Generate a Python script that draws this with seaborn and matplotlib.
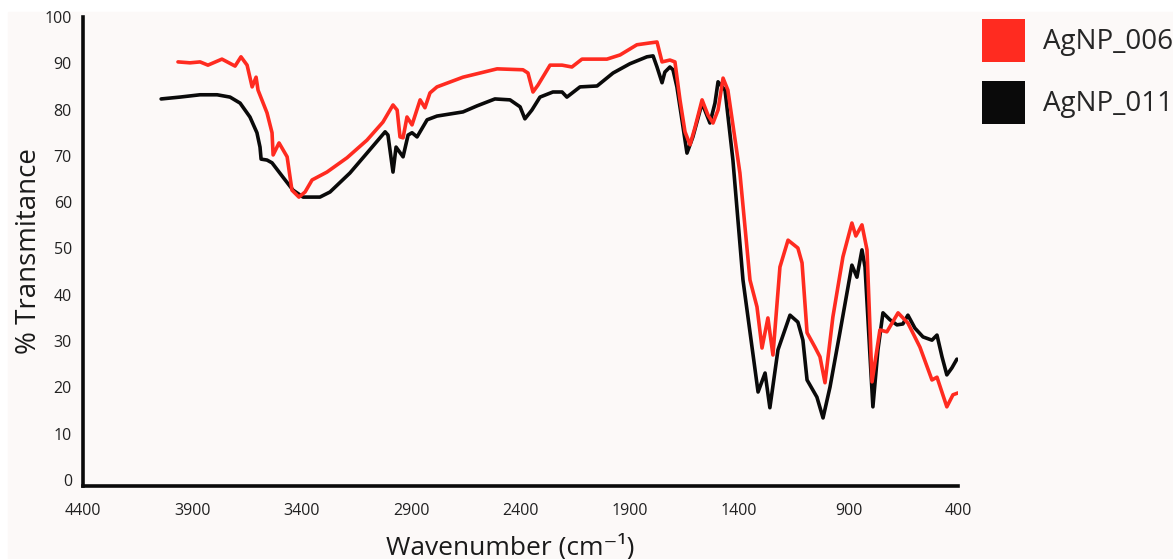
import pandas as pd
import seaborn as sns
import matplotlib.pyplot as plt
from matplotlib.patches import Patch, Rectangle

sns.set_style("white")
plt.rcParams["font.family"] = ["Open Sans", "DejaVu Sans"]

# FTIR spectra
wn_006 = [3966, 3911, 3865, 3829, 3765, 3705, 3678, 3650, 3627, 3609, 3600,
          3559, 3536, 3531, 3504, 3467, 3445, 3413, 3385, 3353, 3285, 3193,
          3102, 3029, 2983, 2964, 2951, 2937, 2919, 2896, 2859, 2837, 2814,
          2782, 2663, 2507, 2389, 2366, 2343, 2320, 2265, 2210, 2165, 2119,
          2005, 1945, 1868, 1808, 1776, 1753, 1717, 1694, 1671, 1648, 1625,
          1602, 1570, 1543, 1520, 1497, 1474, 1452, 1397, 1351, 1319, 1296,
          1269, 1246, 1214, 1177, 1132, 1113, 1090, 1054, 1031, 1008, 972,
          926, 885, 867, 839, 816, 793, 757, 725, 674, 629, 574, 519, 496,
          451, 423, 400]
t_006 = [90.3, 90.1, 90.3, 89.6, 90.9, 89.4, 91.4, 89.6, 84.9, 87.0, 84.2,
         79.3, 75.0, 70.2, 72.8, 69.8, 62.6, 61.1, 62.2, 64.8, 66.5, 69.6,
         73.4, 77.3, 81.0, 79.9, 74.1, 73.9, 78.4, 76.7, 82.1, 80.4, 83.6,
         84.9, 87.0, 88.8, 88.6, 87.9, 83.8, 85.3, 89.6, 89.6, 89.2, 90.9,
         90.9, 91.8, 94.0, 94.4, 94.6, 90.3, 90.7, 90.3, 82.1, 75.2, 72.4,
         76.2, 82.1, 78.8, 77.1, 79.9, 86.8, 84.2, 66.3, 43.2, 37.4, 28.5,
         35.0, 27.0, 46.0, 51.8, 50.1, 46.9, 31.8, 28.7, 26.6, 21.0, 35.2,
         48.2, 55.5, 52.7, 55.1, 49.7, 21.2, 32.4, 32.0, 36.1, 33.9, 28.7,
         21.6, 22.2, 15.8, 18.4, 18.8]

wn_011 = [4043, 3957, 3865, 3787, 3728, 3682, 3637, 3605, 3591, 3586, 3559,
          3536, 3486, 3440, 3394, 3317, 3271, 3180, 3102, 3019, 3006, 2983,
          2969, 2937, 2914, 2896, 2873, 2827, 2782, 2663, 2599, 2517, 2448,
          2402, 2380, 2348, 2311, 2252, 2210, 2188, 2128, 2050, 1977, 1900,
          1822, 1794, 1776, 1753, 1740, 1717, 1703, 1685, 1662, 1639, 1612,
          1570, 1534, 1511, 1497, 1465, 1429, 1383, 1314, 1282, 1260, 1223,
          1168, 1132, 1109, 1090, 1045, 1017, 985, 940, 885, 862, 839, 825,
          802, 789, 766, 743, 711, 679, 652, 629, 597, 560, 519, 496, 473,
          451, 428, 405]
t_011 = [82.3, 82.7, 83.2, 83.2, 82.7, 81.4, 78.4, 75.0, 71.9, 69.3, 69.1,
         68.5, 65.4, 62.6, 61.1, 61.1, 62.2, 66.3, 70.6, 75.2, 74.5, 66.5,
         71.9, 69.8, 74.5, 75.0, 74.1, 77.8, 78.6, 79.5, 80.8, 82.3, 82.1,
         80.6, 78.0, 79.9, 82.7, 83.8, 83.8, 82.7, 84.9, 85.1, 87.9, 89.9,
         91.4, 91.6, 89.2, 85.8, 88.1, 89.2, 88.6, 84.9, 77.8, 70.6, 74.1,
         81.4, 77.1, 81.4, 86.0, 84.2, 69.1, 43.2, 19.0, 23.1, 15.6, 28.1,
         35.6, 34.1, 30.2, 21.6, 17.9, 13.4, 20.1, 31.8, 46.4, 43.8, 49.7,
         46.0, 26.6, 15.8, 28.1, 36.1, 34.6, 33.5, 33.7, 35.6, 32.8, 30.9,
         30.2, 31.3, 26.6, 22.7, 24.2, 26.1]

samples = ["AgNP_006", "AgNP_011"]
colors = {"AgNP_006": "#ff2b20", "AgNP_011": "#0a0a0a"}

df = pd.concat([
    pd.DataFrame({"Wavenumber": wn_006, "T": t_006, "sample": "AgNP_006"}),
    pd.DataFrame({"Wavenumber": wn_011, "T": t_011, "sample": "AgNP_011"}),
])

bg = "#fcf9f8"
fig = plt.figure(figsize=(11.73, 5.59), dpi=100, facecolor="white")
# off-white panel with a thin white margin at top and left, like the original
fig.patches.append(Rectangle((8 / 1173, 0), 1, 1 - 12 / 559,
                             transform=fig.transFigure, color=bg, zorder=-1))

ax = fig.add_axes([0.0708, 0.1306, 0.7459, 0.839])
ax.set_facecolor(bg)

sns.lineplot(
    data=df, x="Wavenumber", y="T", hue="sample",
    hue_order=["AgNP_011", "AgNP_006"], palette=colors,
    estimator=None, linewidth=2.6, legend=False, ax=ax,
    solid_joinstyle="round", solid_capstyle="round",
)

ax.set_xlim(4400, 400)
ax.set_ylim(-1.3, 100)
ax.set_xticks(range(4400, 399, -500))
ax.set_yticks(range(0, 101, 10))
ax.tick_params(axis="x", length=0, pad=12, labelsize=11.5, colors="#222222")
ax.tick_params(axis="y", length=0, pad=8, labelsize=11.5, colors="#222222")

sns.despine(ax=ax)
for s in ("left", "bottom"):
    ax.spines[s].set_linewidth(2.6)
    ax.spines[s].set_color("#0a0a0a")

ax.set_xlabel("Wavenumber (cm\u207b\u00b9)", fontsize=19, color="#1a1a1a")
ax.set_ylabel("% Transmitance", fontsize=20, color="#1a1a1a")
ax.xaxis.set_label_coords((510 - 83) / 875, -0.103)
ax.yaxis.set_label_coords(-0.046, 0.5)

handles = [Patch(facecolor=colors[s], edgecolor="none") for s in samples]
fig.legend(
    handles, samples, loc="upper left",
    bbox_to_anchor=(982 / 1173, 1 - 19 / 559),
    frameon=False, fontsize=20, borderpad=0, borderaxespad=0,
    handlelength=1.55, handleheight=2.0, handletextpad=0.65,
    labelspacing=0.68,
)

fig.savefig("out.png", dpi=100, facecolor="white")
